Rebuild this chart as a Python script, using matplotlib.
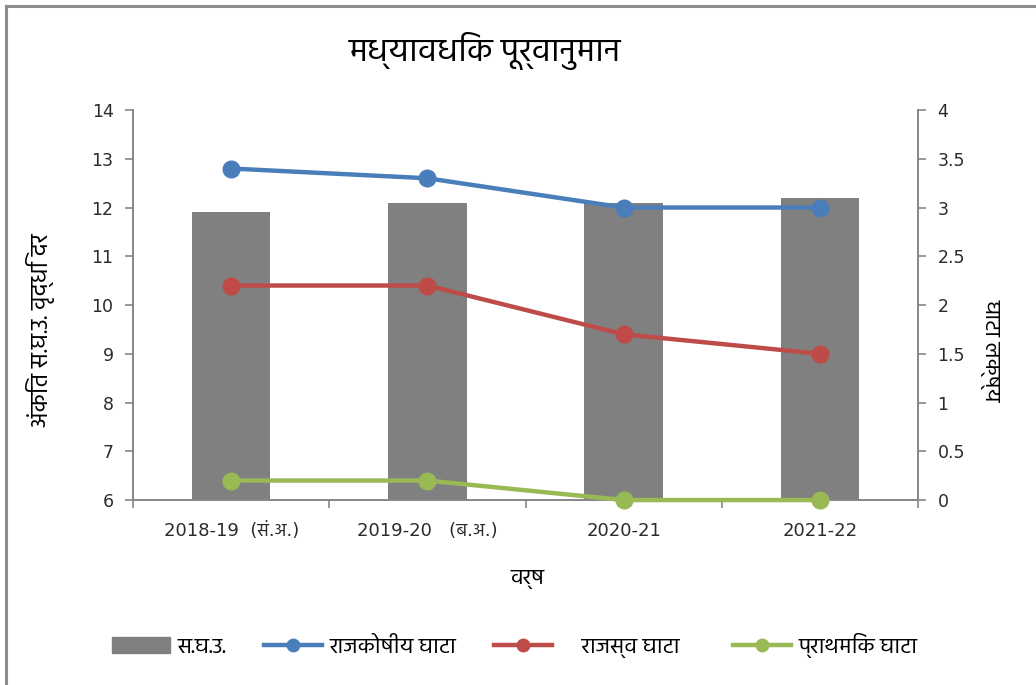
import numpy as np
import matplotlib
matplotlib.use("Agg")
import matplotlib.pyplot as plt
from matplotlib.lines import Line2D
from matplotlib.patches import Patch

hindi = ['Hind', 'Noto Sans Devanagari', 'DejaVu Sans']
nums = ['DejaVu Sans', 'Hind']

# data
years = ['2018-19  (सं.अ.)', '2019-20   (ब.अ.)', '2020-21', '2021-22']
gdp_growth = [11.9, 12.1, 12.1, 12.2]          # left axis, bars
fiscal_def = [3.4, 3.3, 3.0, 3.0]              # right axis
revenue_def = [2.2, 2.2, 1.7, 1.5]
primary_def = [0.2, 0.2, 0.0, 0.0]

bar_col = '#808080'
blue = '#4a7ebb'
red = '#be4b48'
green = '#98b954'
axis_col = '#868686'
txt_col = '#2b2b2b'

fig = plt.figure(figsize=(10.36, 6.85), dpi=100)
ax = fig.add_axes([0.1284, 0.27, 0.7577, 0.5694])
x = np.arange(len(years))

ax.bar(x, gdp_growth, width=0.4, color=bar_col, bottom=0)
ax.set_ylim(6, 14)
ax.set_xlim(-0.5, len(years) - 0.5)
ax.set_yticks(range(6, 15))

ax2 = ax.twinx()
ax2.plot(x, fiscal_def, color=blue, lw=3.2, marker='o', ms=12, zorder=3)
ax2.plot(x, revenue_def, color=red, lw=3.2, marker='o', ms=12, zorder=3)
ax2.plot(x, primary_def, color=green, lw=3.2, marker='o', ms=12, zorder=3, clip_on=False)
ax2.set_ylim(0, 4)
ax2.set_yticks(np.arange(0, 4.01, 0.5))
ax2.set_yticklabels(['0', '0.5', '1', '1.5', '2', '2.5', '3', '3.5', '4'])

for a in (ax, ax2):
    a.spines['top'].set_visible(False)
    for s in ('left', 'right', 'bottom'):
        a.spines[s].set_color(axis_col)
        a.spines[s].set_linewidth(1.2)
    a.tick_params(axis='y', colors=axis_col, labelcolor=txt_col, length=6, width=1.2, labelsize=12.5, pad=8)
    for lab in a.get_yticklabels():
        lab.set_family(nums)

# category ticks sit on the boundaries, labels in the middle
ax.set_xticks(np.arange(-0.5, len(years), 1.0))
ax.set_xticklabels([''] * (len(years) + 1))
ax.set_xticks(x, minor=True)
ax.set_xticklabels(years, minor=True)
ax.tick_params(axis='x', which='major', colors=axis_col, length=6, width=1.2)
ax.tick_params(axis='x', which='minor', length=0, labelsize=13, labelcolor=txt_col, pad=22)
for lab in ax.get_xticklabels(minor=True):
    lab.set_family(nums)
    lab.set_va('center')

ax.set_ylabel('अंकित स.घ.उ. वृद्धि दर', family=hindi, fontsize=17, va='center')
ax.yaxis.set_label_coords(-0.118, 0.436)
ax2.set_ylabel('घाटा लक्ष्य', family=hindi, fontsize=16, rotation=-90, va='center')
ax2.yaxis.set_label_coords(1.092, 0.385)
ax.set_xlabel('वर्ष', family=hindi, fontsize=16)
ax.xaxis.set_label_coords(0.502, -0.18)

fig.text(0.468, 0.925, 'मध्यावधिक पूर्वानुमान', family=hindi, fontsize=24, ha='center', va='center')

handles = [
    Patch(color=bar_col),
    Line2D([], [], color=blue, lw=3.2, marker='o', ms=9),
    Line2D([], [], color=red, lw=3.2, marker='o', ms=9),
    Line2D([], [], color=green, lw=3.2, marker='o', ms=9),
]
labels = ['स.घ.उ.', 'राजकोषीय घाटा', '    राजस्व घाटा   ', 'प्राथमिक घाटा']
fig.legend(handles, labels, loc='center', bbox_to_anchor=(0.497, 0.058), ncol=4, frameon=False,
           prop={'family': hindi, 'size': 16}, handlelength=2.6, handletextpad=0.35, columnspacing=1.7)

# chart frame (top and left edges visible)
fig.add_artist(Line2D([0.006, 1.0], [0.991, 0.991], transform=fig.transFigure, color='#8c8c8c', lw=2.2))
fig.add_artist(Line2D([0.006, 0.006], [0.0, 0.991], transform=fig.transFigure, color='#8c8c8c', lw=2.2))

fig.savefig('out.png', dpi=100)
